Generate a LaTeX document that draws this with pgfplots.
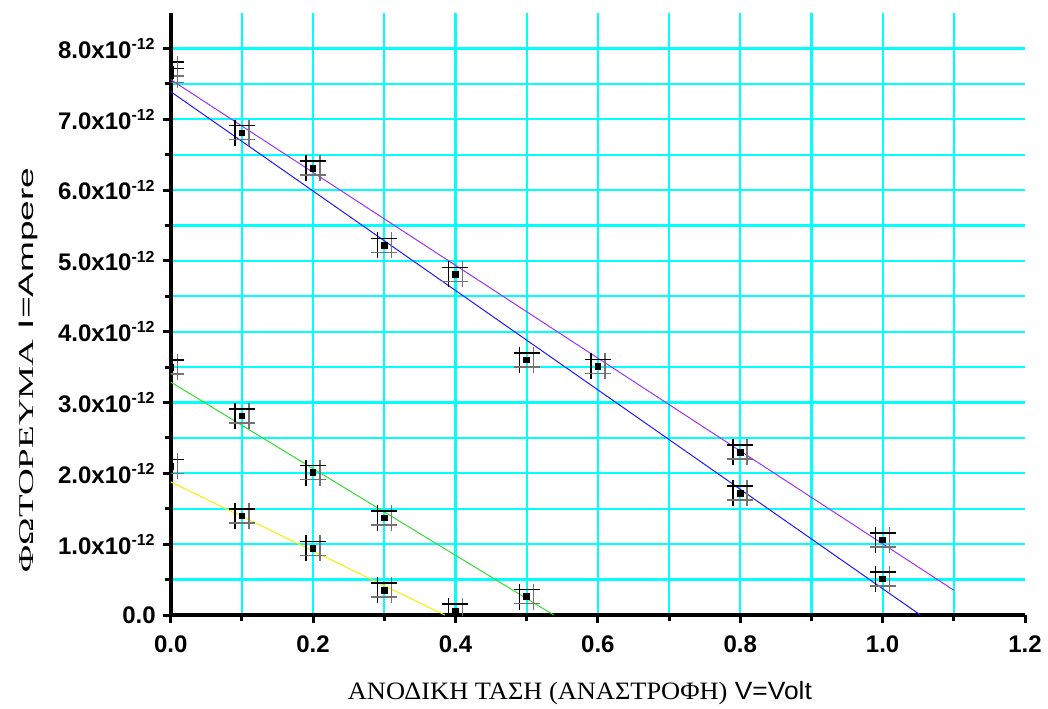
\documentclass[border=0pt]{standalone}
\usepackage{fontspec}
\setmainfont{Liberation Sans}
\newfontfamily\grserif{Liberation Serif}
\usepackage{graphicx}
\usepackage{pgfplots}
\usepackage{pgfplotstable}
\pgfplotsset{compat=1.18}

\pgfplotstableread{
x y
0 7.71
0.2 6.31
0.4 4.81
0.6 3.51
0.8 2.30
1.0 1.06
}\dataA
\pgfplotstableread{
x y
0 7.62
0.1 6.81
0.3 5.22
0.5 3.60
0.8 1.72
1.0 0.51
}\dataB
\pgfplotstableread{
x y
0 3.50
0.1 2.81
0.2 2.01
0.3 1.37
0.5 0.26
}\dataC
\pgfplotstableread{
x y
0 2.10
0.1 1.40
0.2 0.94
0.3 0.35
0.4 0.06
}\dataD

\definecolor{fitpurple}{HTML}{9933FF}
\definecolor{fitblue}{HTML}{1A1AFF}
\definecolor{fitgreen}{HTML}{33DD33}
\definecolor{fityellow}{HTML}{F2F200}
\definecolor{gridcyan}{HTML}{00FFFF}

\newcommand\hashplot[1]{%
  \addplot[only marks, black, mark=|, mark size=6.5pt, mark options={line width=0.75pt, xshift=-3.5pt}] table {#1};
  \addplot[only marks, black!55, mark=|, mark size=6.5pt, mark options={line width=0.75pt, xshift=3.5pt}] table {#1};
  \addplot[only marks, black, mark=-, mark size=6.5pt, mark options={line width=0.75pt, yshift=3.5pt}] table {#1};
  \addplot[only marks, black!55, mark=-, mark size=6.5pt, mark options={line width=0.75pt, yshift=-3.5pt}] table {#1};
  \addplot[only marks, black, mark=square*, mark size=1.4pt] table {#1};
}
\newcommand\ylab[1]{#1.0x10\textsuperscript{-12}}

\begin{document}
\begin{tikzpicture}
\useasboundingbox (-85.35pt,-46.5pt) rectangle (438.65pt,307.5pt);
\begin{axis}[
  scale only axis, width=427.15pt, height=301pt,
  xmin=0, xmax=1.2, ymin=0, ymax=8.5,
  axis x line*=bottom, axis y line*=left,
  axis line style={line width=2pt},
  clip marker paths=true,
  xtick={0,0.2,0.4,0.6,0.8,1.0},
  xticklabels={0.0,0.2,0.4,0.6,0.8,1.0},
  extra x ticks={1.2}, extra x tick labels={1.2},
  extra x tick style={grid=none},
  minor xtick={0.1,0.3,0.5,0.7,0.9,1.1},
  ytick={0,1,2,3,4,5,6,7,8},
  yticklabels={0.0,\ylab1,\ylab2,\ylab3,\ylab4,\ylab5,\ylab6,\ylab7,\ylab8},
  minor ytick={0.5,1.5,2.5,3.5,4.5,5.5,6.5,7.5},
  grid=both,
  every axis grid/.style={gridcyan, line width=1.1pt},
  every major grid/.style={gridcyan, line width=1.1pt},
  every minor grid/.style={gridcyan, line width=1.1pt},
  tick align=outside,
  major tick length=4pt, minor tick length=3pt,
  every tick/.style={black, line width=1.5pt},
  ticklabel style={font=\bfseries\fontsize{12}{13}\selectfont},
  xticklabel style={yshift=-3pt},
  xlabel={\resizebox{232pt}{\height}{{\grserif ΑΝΟΔΙΚΗ ΤΑΣΗ (ΑΝΑΣΤΡΟΦΗ)} V=Volt}},
  ylabel={\resizebox{202.5pt}{\height}{{\grserif ΦΩΤΟΡΕΥΜΑ} I=Ampere}},
  xlabel style={font=\fontsize{12.5}{14}\selectfont, at={(axis description cs:0.479,-0.13)}, anchor=center},
  ylabel style={font=\fontsize{10.5}{12}\selectfont, at={(axis description cs:-0.167,0.407)}, anchor=center},
]
\addplot[fitpurple, line width=0.5pt] coordinates {(0,7.56) (1.1,0.35)};
\addplot[fitblue, line width=0.5pt] coordinates {(0,7.39) (1.053,0)};
\addplot[fitgreen, line width=0.5pt] coordinates {(0,3.29) (0.538,0)};
\addplot[fityellow, line width=0.5pt] coordinates {(0,1.88) (0.385,0)};
\hashplot{\dataA}
\hashplot{\dataB}
\hashplot{\dataC}
\hashplot{\dataD}
\end{axis}
\end{tikzpicture}
\end{document}
